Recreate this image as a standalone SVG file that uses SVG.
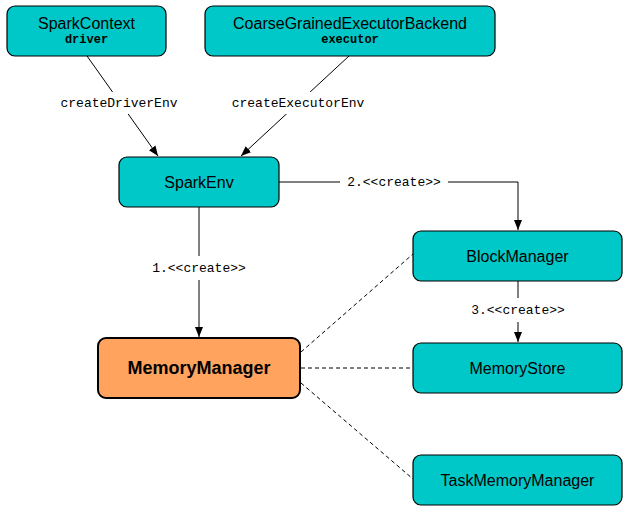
<svg xmlns="http://www.w3.org/2000/svg" width="629" height="511" viewBox="0 0 629 511">
<style>
.box{fill:#00C8C8;stroke:#000;stroke-width:1.2}
.mm{fill:#FFA35E;stroke:#000;stroke-width:2}
.t{font-family:"Liberation Sans",Arial,sans-serif;font-size:16px;fill:#000;text-anchor:middle;dominant-baseline:central}
.tb{font-family:"Liberation Sans",Arial,sans-serif;font-size:18px;font-weight:bold;fill:#000;text-anchor:middle;dominant-baseline:central}
.sub{font-family:"Liberation Mono","Courier New",monospace;font-size:12px;font-weight:bold;fill:#000;text-anchor:middle;dominant-baseline:central}
.lbl{font-family:"Liberation Mono","Courier New",monospace;font-size:13px;fill:#000;text-anchor:middle;dominant-baseline:central}
.ln{fill:none;stroke:#000;stroke-width:1}
.dash{fill:none;stroke:#000;stroke-width:1;stroke-dasharray:4 3}
.bg{fill:#fff}
</style>
<defs>
<marker id="arr" viewBox="0 0 10 10" refX="10" refY="5" markerWidth="10" markerHeight="10" markerUnits="userSpaceOnUse" orient="auto">
<path d="M0,1 L10,5 L0,9 Z" fill="#000"/>
</marker>
</defs>
<rect width="629" height="511" fill="#fff"/>
<g id="connectors">
<line class="ln" x1="87" y1="56" x2="158" y2="156" marker-end="url(#arr)"/>
<line class="ln" x1="349" y1="56" x2="241" y2="156" marker-end="url(#arr)"/>
<polyline class="ln" points="279,182 518,182 518,230" marker-end="url(#arr)"/>
<line class="ln" x1="199" y1="207" x2="199" y2="337" marker-end="url(#arr)"/>
<line class="ln" x1="518" y1="281" x2="518" y2="342" marker-end="url(#arr)"/>
<line class="dash" x1="301" y1="352" x2="413" y2="254"/>
<line class="dash" x1="301" y1="368" x2="413" y2="368"/>
<line class="dash" x1="301" y1="383" x2="413" y2="479"/>
<rect class="bg" x="56" y="92" width="126" height="22"/>
<text class="lbl" x="119" y="103">createDriverEnv</text>
<rect class="bg" x="227" y="92" width="142" height="22"/>
<text class="lbl" x="298" y="103">createExecutorEnv</text>
<rect class="bg" x="340" y="173" width="108" height="18"/>
<text class="lbl" x="394" y="182">2.&lt;&lt;create&gt;&gt;</text>
<rect class="bg" x="146" y="256" width="106" height="24"/>
<text class="lbl" x="199" y="268">1.&lt;&lt;create&gt;&gt;</text>
<rect class="bg" x="465" y="298" width="106" height="24"/>
<text class="lbl" x="518" y="310">3.&lt;&lt;create&gt;&gt;</text>
</g>
<g id="sparkcontext">
<rect class="box" x="7" y="6" width="159" height="50" rx="8"/>
<text class="t" x="86.5" y="23">SparkContext</text>
<text class="sub" x="86.5" y="40">driver</text>
</g>
<g id="coarsegrained">
<rect class="box" x="205" y="6" width="290" height="50" rx="8"/>
<text class="t" x="350" y="23">CoarseGrainedExecutorBackend</text>
<text class="sub" x="350" y="40">executor</text>
</g>
<g id="sparkenv">
<rect class="box" x="119" y="157" width="160" height="50" rx="8"/>
<text class="t" x="199" y="182">SparkEnv</text>
</g>
<g id="blockmanager">
<rect class="box" x="413" y="231" width="209" height="50" rx="8"/>
<text class="t" x="517.5" y="256">BlockManager</text>
</g>
<g id="memorymanager">
<rect class="mm" x="98" y="338" width="202" height="60" rx="8"/>
<text class="tb" x="199" y="368">MemoryManager</text>
</g>
<g id="memorystore">
<rect class="box" x="413" y="343" width="209" height="50" rx="8"/>
<text class="t" x="517.5" y="368">MemoryStore</text>
</g>
<g id="taskmemorymanager">
<rect class="box" x="413" y="455" width="209" height="50" rx="8"/>
<text class="t" x="517.5" y="480">TaskMemoryManager</text>
</g>
</svg>
